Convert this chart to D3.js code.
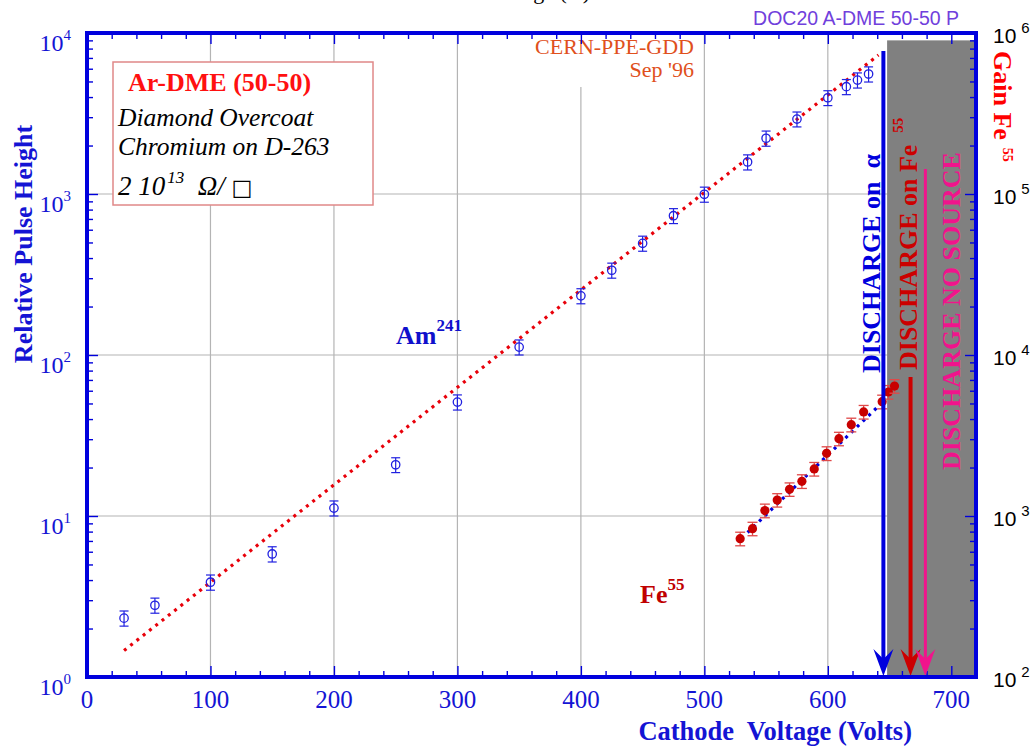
<!DOCTYPE html>
<html><head><meta charset="utf-8">
<script src="https://cdn.jsdelivr.net/npm/d3@7"></script>
<style>body{margin:0;background:#fff} svg{display:block} text{white-space:pre}</style>
</head><body>
<svg id="c" width="1032" height="746"></svg>
<script>
// ---------------- data ----------------
const amVolt = [30, 55, 100, 150, 200, 250, 300, 350, 400, 425, 450, 475, 500, 535, 550, 575, 600, 615, 624, 633];
const amVal  = [2.32, 2.79, 3.88, 5.81, 11.2, 20.8, 51, 112, 233, 336, 494, 733, 996, 1580, 2220, 2920, 3960, 4640, 5100, 5560];
const amErr  = [0.25, 0.3, 0.42, 0.63, 1.2, 2.2, 5.5, 12, 25, 36, 53, 78, 107, 170, 240, 310, 420, 500, 550, 600];

const feVolt = [529, 539, 549, 559, 569, 579, 589, 599, 609, 619, 629, 644, 649, 654];
const feGain = [723, 834, 1080, 1256, 1465, 1643, 1960, 2450, 3020, 3690, 4430, 5130, 5890, 6410];
const feErr  = [70, 80, 105, 120, 140, 160, 190, 240, 290, 360, 430, 500, 570, 620];

const amFitVolt = [30, 641];
const amFitVal  = [1.46, 7300];
const feFitVolt = [535, 645];
const feFitGain = [790, 5150];

const dischargeVolt = [645, 667, 679];          // alpha, Fe55, no source
const dischargeTop  = [7730, 73, 1430];          // top of arrow lines (left-axis units)
const dischargeColor = ["#0000dd", "#cc0000", "#f0148c"];
const grayVolt = [648, 720];
const grayTop = 9000;

const xMajor = [0, 100, 200, 300, 400, 500, 600, 700];
const xGrid  = [100, 200, 300, 400, 500, 600];
const leftExp  = [0, 1, 2, 3, 4];
const rightExp = [2, 3, 4, 5, 6];
const yGrid = [10, 100, 1000];

// ---------------- setup ----------------
const svg = d3.select('#c');
const SERIF = "'Liberation Serif','Times New Roman',serif";
const SANS  = "'Liberation Sans',Arial,sans-serif";
const BLUE = "#0000dd";
const TXTBLUE = "#1414d4";

const x  = d3.scaleLinear().domain([0, 720]).range([87, 976]);
const yL = d3.scaleLog().domain([1, 1e4]).range([677, 33]);
const yR = d3.scaleLog().domain([1e2, 1e6]).range([677, 33]);

// grid
svg.append('g').selectAll('line').data(xGrid).join('line')
  .attr('x1', d => x(d)).attr('x2', d => x(d)).attr('y1', yL(1)).attr('y2', yL(1e4))
  .attr('stroke', '#b4b4b4').attr('stroke-width', 1.2);
svg.append('g').selectAll('line').data(yGrid).join('line')
  .attr('x1', x(0)).attr('x2', x(720)).attr('y1', d => yL(d)).attr('y2', d => yL(d))
  .attr('stroke', '#b4b4b4').attr('stroke-width', 1.2);

// title fragment cut at top (as in the reference)
svg.append('text').attr('x', 590).attr('y', -1).attr('text-anchor', 'end')
  .attr('font-family', SERIF).attr('font-size', 22).attr('fill', '#000').text('Voltage (V)');

// CERN label box
svg.append('rect').attr('x', 520).attr('y', 35).attr('width', 178).attr('height', 52).attr('fill', '#fff');
svg.append('text').attr('x', 694).attr('y', 54).attr('text-anchor', 'end')
  .attr('font-family', SERIF).attr('font-size', 22).attr('fill', '#e0501c').text('CERN-PPE-GDD');
svg.append('text').attr('x', 694).attr('y', 77).attr('text-anchor', 'end')
  .attr('font-family', SERIF).attr('font-size', 22).attr('fill', '#e0501c').text("Sep '96");

// legend box
svg.append('rect').attr('x', 113).attr('y', 62).attr('width', 260).attr('height', 143)
  .attr('fill', '#fff').attr('stroke', '#e08888').attr('stroke-width', 1.5);
svg.append('text').attr('x', 128).attr('y', 91).attr('font-family', SERIF).attr('font-weight', 'bold')
  .attr('font-size', 26).attr('fill', '#ff1010').text('Ar-DME (50-50)');
svg.append('text').attr('x', 118).attr('y', 126).attr('font-family', SERIF).attr('font-style', 'italic')
  .attr('font-size', 25.5).attr('fill', '#000').text('Diamond Overcoat');
svg.append('text').attr('x', 118).attr('y', 154.5).attr('font-family', SERIF).attr('font-style', 'italic')
  .attr('font-size', 25.5).attr('fill', '#000').text('Chromium on D-263');
const rt = svg.append('text').attr('x', 118).attr('y', 195).attr('font-family', SERIF).attr('font-style', 'italic')
  .attr('font-size', 27).attr('fill', '#000');
rt.append('tspan').text('2 10');
rt.append('tspan').attr('font-size', 17).attr('dy', -12).attr('dx', 2).text('13');
rt.append('tspan').attr('dy', 12).text('  Ω/ ');
rt.append('tspan').attr('font-style', 'normal').attr('font-family', "'DejaVu Sans',sans-serif").attr('font-size', 22).text('□');

// gray region
svg.append('rect').attr('x', x(grayVolt[0])).attr('y', yL(grayTop))
  .attr('width', x(grayVolt[1]) - x(grayVolt[0])).attr('height', yL(1) - yL(grayTop))
  .attr('fill', '#808080');

// ticks
function ticks(gen, scale, vals, size, tr) {
  svg.append('g').attr('transform', tr)
    .call(gen(scale).tickValues(vals).tickSize(size).tickFormat(''))
    .call(g => g.select('.domain').remove())
    .selectAll('line').attr('stroke', BLUE).attr('stroke-width', 1.4);
}
const xMinor = d3.range(0, 721, 20).filter(v => v % 100 !== 0);
const lMinor = [], rMinor = [];
[1, 10, 100, 1000].forEach(d => { for (let k = 2; k <= 9; k++) lMinor.push(k * d); });
[100, 1000, 1e4, 1e5].forEach(d => { for (let k = 2; k <= 9; k++) rMinor.push(k * d); });
ticks(d3.axisBottom, x, xMajor, -11, 'translate(0,677)');
ticks(d3.axisBottom, x, xMinor, -6, 'translate(0,677)');
ticks(d3.axisTop, x, xMajor, -11, 'translate(0,33)');
ticks(d3.axisTop, x, xMinor, -6, 'translate(0,33)');
ticks(d3.axisLeft, yL, leftExp.map(e => Math.pow(10, e)), -11, 'translate(87,0)');
ticks(d3.axisLeft, yL, lMinor, -6, 'translate(87,0)');
ticks(d3.axisRight, yR, rightExp.map(e => Math.pow(10, e)), -11, 'translate(976,0)');
ticks(d3.axisRight, yR, rMinor, -6, 'translate(976,0)');

// fit lines
const lineL = d3.line().x(d => x(d[0])).y(d => yL(d[1]));
const lineR = d3.line().x(d => x(d[0])).y(d => yR(d[1]));
svg.append('path').attr('d', lineL(d3.zip(amFitVolt, amFitVal)))
  .attr('fill', 'none').attr('stroke', '#e8000a').attr('stroke-width', 3.2)
  .attr('stroke-dasharray', '3 5');
svg.append('path').attr('d', lineR(d3.zip(feFitVolt, feFitGain)))
  .attr('fill', 'none').attr('stroke', '#0000dd').attr('stroke-width', 3.2)
  .attr('stroke-dasharray', '3 5');

// Am241 points
const am = svg.append('g').selectAll('g').data(d3.range(amVolt.length)).join('g');
am.append('line').attr('x1', i => x(amVolt[i])).attr('x2', i => x(amVolt[i]))
  .attr('y1', i => yL(amVal[i] - amErr[i])).attr('y2', i => yL(amVal[i] + amErr[i]))
  .attr('stroke', '#2020e0').attr('stroke-width', 1.2);
[-1, 1].forEach(s => {
  am.append('line').attr('x1', i => x(amVolt[i]) - 4.5).attr('x2', i => x(amVolt[i]) + 4.5)
    .attr('y1', i => yL(amVal[i] + s * amErr[i])).attr('y2', i => yL(amVal[i] + s * amErr[i]))
    .attr('stroke', '#2020e0').attr('stroke-width', 1.2);
});
am.append('circle').attr('cx', i => x(amVolt[i])).attr('cy', i => yL(amVal[i])).attr('r', 4.2)
  .attr('fill', 'none').attr('stroke', '#2020e0').attr('stroke-width', 1.3);

// Fe55 points
const fe = svg.append('g').selectAll('g').data(d3.range(feVolt.length)).join('g');
fe.append('line').attr('x1', i => x(feVolt[i])).attr('x2', i => x(feVolt[i]))
  .attr('y1', i => yR(feGain[i] - feErr[i])).attr('y2', i => yR(feGain[i] + feErr[i]))
  .attr('stroke', '#e04848').attr('stroke-width', 1.3);
[-1, 1].forEach(s => {
  fe.append('line').attr('x1', i => x(feVolt[i]) - 5).attr('x2', i => x(feVolt[i]) + 5)
    .attr('y1', i => yR(feGain[i] + s * feErr[i])).attr('y2', i => yR(feGain[i] + s * feErr[i]))
    .attr('stroke', '#e04848').attr('stroke-width', 1.3);
});
fe.append('circle').attr('cx', i => x(feVolt[i])).attr('cy', i => yR(feGain[i])).attr('r', 4.6)
  .attr('fill', '#c80000');

// discharge arrows
dischargeVolt.forEach((v, i) => {
  const xx = x(v), top = yL(dischargeTop[i]), tip = yL(1) - 1;
  svg.append('line').attr('x1', xx).attr('x2', xx).attr('y1', top).attr('y2', tip - 10)
    .attr('stroke', dischargeColor[i]).attr('stroke-width', i === 2 ? 3 : 4);
  svg.append('path')
    .attr('d', `M${xx},${tip} L${xx - 10},${tip - 27} L${xx},${tip - 17} L${xx + 10},${tip - 27} Z`)
    .attr('fill', dischargeColor[i]);
});

// frame
svg.append('rect').attr('x', x(0)).attr('y', yL(1e4)).attr('width', x(720) - x(0)).attr('height', yL(1) - yL(1e4))
  .attr('fill', 'none').attr('stroke', BLUE).attr('stroke-width', 4);

// tick labels
svg.append('g').selectAll('text').data(xMajor).join('text')
  .attr('x', d => x(d)).attr('y', 708).attr('text-anchor', 'middle')
  .attr('font-family', SERIF).attr('font-size', 25).attr('fill', TXTBLUE).text(d => d);
const ll = svg.append('g').selectAll('text').data(leftExp).join('text')
  .attr('x', 71).attr('y', e => yL(Math.pow(10, e)) + 18).attr('text-anchor', 'end')
  .attr('font-family', SERIF).attr('font-size', 24).attr('fill', TXTBLUE);
ll.append('tspan').text('10');
ll.append('tspan').attr('font-size', 15).attr('dy', -11).text(e => e);
const rl = svg.append('g').selectAll('text').data(rightExp).join('text')
  .attr('x', 993).attr('y', e => yR(Math.pow(10, e)) + 10)
  .attr('font-family', SANS).attr('font-size', 21).attr('fill', '#000');
rl.append('tspan').text('10');
rl.append('tspan').attr('font-size', 15).attr('dx', 5).attr('dy', -10).text(e => e);

// axis titles
svg.append('text').attr('transform', 'translate(32,244) rotate(-90)').attr('text-anchor', 'middle')
  .attr('font-family', SERIF).attr('font-weight', 'bold').attr('font-size', 26).attr('fill', TXTBLUE)
  .text('Relative Pulse Height');
svg.append('text').attr('x', 912).attr('y', 740).attr('text-anchor', 'end')
  .attr('font-family', SERIF).attr('font-weight', 'bold').attr('font-size', 26.5).attr('fill', TXTBLUE)
  .text('Cathode  Voltage (Volts)');
const gt = svg.append('text').attr('transform', 'translate(994,51) rotate(90)')
  .attr('font-family', SERIF).attr('font-weight', 'bold').attr('font-size', 26).attr('fill', '#ff0000');
gt.append('tspan').text('Gain Fe');
gt.append('tspan').attr('font-size', 14).attr('dx', 8).attr('dy', -9).text('55');

svg.append('text').attr('x', 959).attr('y', 25).attr('text-anchor', 'end')
  .attr('font-family', SANS).attr('font-size', 19.5).attr('fill', '#7040dc').text('DOC20 A-DME 50-50 P');

// series labels
const amL = svg.append('text').attr('x', 396).attr('y', 344).attr('font-family', SERIF)
  .attr('font-weight', 'bold').attr('font-size', 26).attr('fill', '#1010cc');
amL.append('tspan').text('Am');
amL.append('tspan').attr('font-size', 17).attr('dy', -13).text('241');
const feL = svg.append('text').attr('x', 640).attr('y', 603).attr('font-family', SERIF)
  .attr('font-weight', 'bold').attr('font-size', 26).attr('fill', '#c00000');
feL.append('tspan').text('Fe');
feL.append('tspan').attr('font-size', 17).attr('dy', -13).text('55');

// discharge labels
svg.append('text').attr('transform', 'translate(880,373) rotate(-90)')
  .attr('font-family', SERIF).attr('font-weight', 'bold').attr('font-size', 26).attr('fill', '#0000dd')
  .text('DISCHARGE on  α');
const dr = svg.append('text').attr('transform', 'translate(917,370) rotate(-90)')
  .attr('font-family', SERIF).attr('font-weight', 'bold').attr('font-size', 26).attr('fill', '#cc0000');
dr.append('tspan').text('DISCHARGE on Fe');
dr.append('tspan').attr('font-size', 15).attr('dx', 12).attr('dy', -14).text('55');
svg.append('text').attr('transform', 'translate(960,470) rotate(-90)')
  .attr('font-family', SERIF).attr('font-weight', 'bold').attr('font-size', 26).attr('fill', '#f0148c')
  .text('DISCHARGE NO SOURCE');
</script>
</body></html>
